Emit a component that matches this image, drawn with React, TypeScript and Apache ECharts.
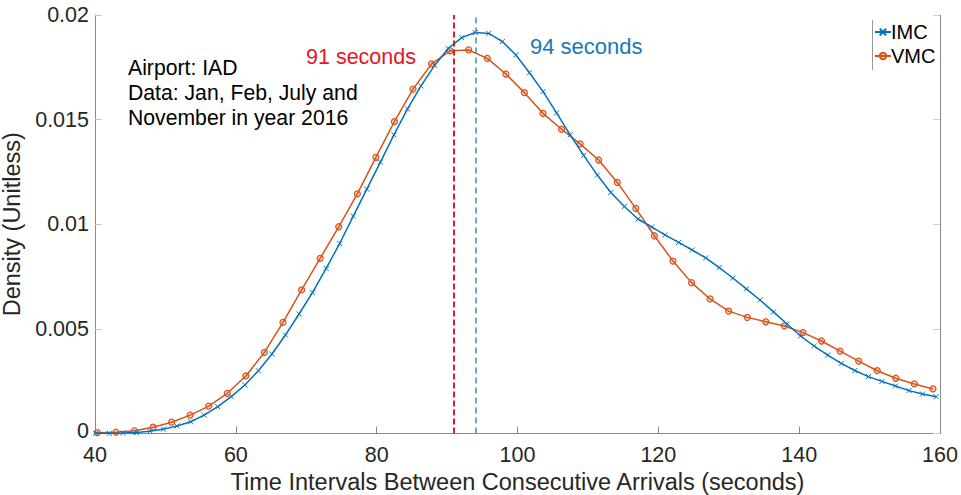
import React, { useEffect, useRef } from "react";
import * as echarts from "echarts";

// Sample points of the kernel density estimate, IMC (instrument conditions)
const IMC_X = [
  40.1, 42.03, 43.95, 45.88, 47.8, 49.73, 51.65, 53.58, 55.5, 57.43,
  59.35, 61.28, 63.2, 65.13, 67.05, 68.98, 70.9, 72.83, 74.75, 76.68,
  78.6, 80.53, 82.45, 84.38, 86.3, 88.23, 90.15, 92.08, 94.0, 95.93,
  97.85, 99.78, 101.7, 103.63, 105.55, 107.48, 109.4, 111.33, 113.25, 115.18,
  117.1, 119.03, 120.95, 122.88, 124.8, 126.73, 128.65, 130.58, 132.5, 134.43,
  136.35, 138.28, 140.2, 142.13, 144.05, 145.98, 147.9, 149.83, 151.75, 153.68,
  155.6, 157.53, 159.45,
];
const IMC_Y = [
  0.00001, 0.00001, 0.00002, 0.00005, 0.00011, 0.00021, 0.00036, 0.00056, 0.00088, 0.00128,
  0.00176, 0.00232, 0.003, 0.0038, 0.00471, 0.00571, 0.00674, 0.00789, 0.00908, 0.01039,
  0.01168, 0.01297, 0.01427, 0.01551, 0.01661, 0.01759, 0.0184, 0.01892, 0.01916, 0.01912,
  0.01873, 0.01809, 0.01724, 0.01634, 0.01532, 0.01427, 0.01329, 0.01235, 0.01152, 0.01085,
  0.01025, 0.00987, 0.00949, 0.00913, 0.00877, 0.00839, 0.00793, 0.00743, 0.00691, 0.00638,
  0.00581, 0.00523, 0.00466, 0.00418, 0.00375, 0.00335, 0.00301, 0.00272, 0.00249, 0.00227,
  0.00205, 0.00189, 0.00176,
];

// Sample points of the kernel density estimate, VMC (visual conditions)
const VMC_X = [
  40.33, 42.97, 45.6, 48.24, 50.88, 53.52, 56.15, 58.79, 61.43, 64.06,
  66.7, 69.34, 71.97, 74.61, 77.25, 79.89, 82.52, 85.16, 87.8, 90.43,
  93.07, 95.71, 98.35, 100.98, 103.62, 106.26, 108.89, 111.53, 114.17, 116.8,
  119.44, 122.08, 124.72, 127.35, 129.99, 132.63, 135.26, 137.9, 140.54, 143.18,
  145.81, 148.45, 151.09, 153.72, 156.36, 159.0,
];
const VMC_Y = [
  0.00004, 0.00006, 0.00013, 0.0003, 0.00054, 0.00088, 0.00131, 0.00192, 0.00275, 0.00388,
  0.00531, 0.00686, 0.00837, 0.00988, 0.01145, 0.0132, 0.0149, 0.01646, 0.01766, 0.01829,
  0.01833, 0.01793, 0.01718, 0.01629, 0.0153, 0.01454, 0.01384, 0.01307, 0.012, 0.01076,
  0.00945, 0.00824, 0.00721, 0.00643, 0.00585, 0.00555, 0.00534, 0.00514, 0.00482, 0.00442,
  0.00394, 0.00346, 0.003, 0.00264, 0.00237, 0.00213,
];

// Modes of the two densities (seconds)
const VMC_PEAK = 91;
const IMC_PEAK = 94;

const X_TICKS = [40, 60, 80, 100, 120, 140, 160];
const Y_TICKS = [0, 0.005, 0.01, 0.015, 0.02];

const NOTE_LINES = [
  "Airport: IAD",
  "Data: Jan, Feb, July and",
  "November in year 2016",
];

const BLUE = "#0072BD";
const ORANGE = "#D95319";
const FONT = "'Liberation Sans', Arial, Helvetica, sans-serif";
const AXIS_GRAY = "#8a8a8a";
const TEXT_DARK = "#262626";
const TICK_FONT = 21.5;

export default function App() {
  const ref = useRef<HTMLDivElement>(null);

  useEffect(() => {
    if (!ref.current) return;
    const chart = echarts.init(ref.current, null, { renderer: "svg" });

    const imcData = IMC_X.map((x, i) => [x, IMC_Y[i]]);
    const vmcData = VMC_X.map((x, i) => [x, VMC_Y[i]]);

    // The zero label is lifted slightly so it clears the "40" below it
    const yLabel = (v: number) => {
      const hit = Y_TICKS.find((t) => Math.abs(t - v) < 1e-9);
      if (hit === undefined) return "";
      return hit === 0 ? "{z|0}" : String(+hit.toFixed(3));
    };

    chart.setOption({
      animation: false,
      grid: { left: 95, right: 21, top: 15, bottom: 61.5, outerBoundsMode: "none", containLabel: false },
      legend: {
        orient: "vertical",
        left: 869,
        top: 17,
        itemWidth: 16,
        itemHeight: 8,
        itemGap: 4,
        textStyle: { fontFamily: FONT, fontSize: 20, color: "#000", padding: [0, 0, 0, -5] },
        data: ["IMC", "VMC"],
      },
      xAxis: {
        type: "value",
        min: X_TICKS[0],
        max: X_TICKS[X_TICKS.length - 1],
        interval: 20,
        name: "Time Intervals Between Consecutive Arrivals (seconds)",
        nameLocation: "middle",
        nameGap: 34,
        nameTextStyle: { fontFamily: FONT, fontSize: 23.5, color: TEXT_DARK },
        axisLine: { show: true, lineStyle: { color: AXIS_GRAY, width: 1 } },
        axisTick: { show: true, inside: true, length: 7, lineStyle: { color: AXIS_GRAY } },
        axisLabel: { fontFamily: FONT, fontSize: TICK_FONT, lineHeight: 16, color: TEXT_DARK, margin: 13 },
        splitLine: { show: false },
      },
      yAxis: [
        {
          type: "value",
          min: 0,
          max: 0.02,
          interval: 0.005,
          name: "Density (Unitless)",
          nameLocation: "middle",
          nameGap: 61,
          nameTextStyle: { fontFamily: FONT, fontSize: 23.5, color: TEXT_DARK },
          axisLine: { show: true, lineStyle: { color: AXIS_GRAY, width: 1 } },
          axisTick: { show: true, inside: true, length: 7, lineStyle: { color: "#c8c8c8" } },
          axisLabel: {
            fontFamily: FONT,
            fontSize: TICK_FONT,
            lineHeight: 16,
            color: TEXT_DARK,
            margin: 6,
            formatter: yLabel,
            rich: {
              z: {
                fontFamily: FONT,
                fontSize: TICK_FONT,
                lineHeight: 16,
                color: TEXT_DARK,
                padding: [0, 0, 6, 0],
              },
            },
          },
          splitLine: { show: false },
        },
        {
          type: "value",
          position: "right",
          min: 0,
          max: 0.02,
          interval: 0.005,
          axisLine: { show: true, onZero: false, lineStyle: { color: AXIS_GRAY, width: 1 } },
          axisTick: { show: true, inside: true, length: 7, lineStyle: { color: "#d0d0d0" } },
          axisLabel: { show: false },
          splitLine: { show: false },
        },
      ],
      series: [
        {
          name: "IMC",
          type: "line",
          data: imcData,
          symbol: "path://M0 0L10 10M10 0L0 10",
          symbolSize: 5,
          showAllSymbol: true,
          lineStyle: { color: BLUE, width: 1.5 },
          itemStyle: { color: BLUE, borderColor: BLUE, borderWidth: 1 },
          markLine: {
            silent: true,
            symbol: ["none", "none"],
            label: { show: false },
            lineStyle: { color: "#3d8fc4", type: [6, 4], width: 1.5 },
            data: [{ xAxis: IMC_PEAK }],
          },
          z: 3,
        },
        {
          name: "VMC",
          type: "line",
          data: vmcData,
          symbol: "circle",
          symbolSize: 6,
          showAllSymbol: true,
          lineStyle: { color: ORANGE, width: 1.5 },
          itemStyle: { color: "rgba(217,83,25,0.25)", borderColor: ORANGE, borderWidth: 1.2 },
          markLine: {
            silent: true,
            symbol: ["none", "none"],
            label: { show: false },
            lineStyle: { color: "#d6202b", type: [6, 3], width: 2 },
            data: [{ xAxis: VMC_PEAK }],
          },
          z: 2,
        },
      ],
      graphic: [
        {
          type: "text",
          x: 306,
          y: 57,
          style: {
            text: `${VMC_PEAK} seconds`,
            fill: "#e3161e",
            fontFamily: FONT,
            fontSize: 21.5,
            verticalAlign: "middle",
          },
        },
        {
          type: "text",
          x: 530,
          y: 46,
          style: {
            text: `${IMC_PEAK} seconds`,
            fill: "#1a78b8",
            fontFamily: FONT,
            fontSize: 22,
            verticalAlign: "middle",
          },
        },
        ...NOTE_LINES.map((line, i) => ({
          type: "text",
          x: 128,
          y: 67 + i * 25,
          style: {
            text: line,
            fill: "#000",
            fontFamily: FONT,
            fontSize: 21.2,
            verticalAlign: "middle",
          },
        })),
        {
          type: "line",
          shape: { x1: 872.5, y1: 20, x2: 872.5, y2: 70 },
          style: { stroke: "#9a9a9a", lineWidth: 1 },
        },
      ],
    });

    return () => chart.dispose();
  }, []);

  return (
    <div
      ref={ref}
      style={{ position: "fixed", left: 0, top: 0, width: 961, height: 495, background: "#fff" }}
    />
  );
}
